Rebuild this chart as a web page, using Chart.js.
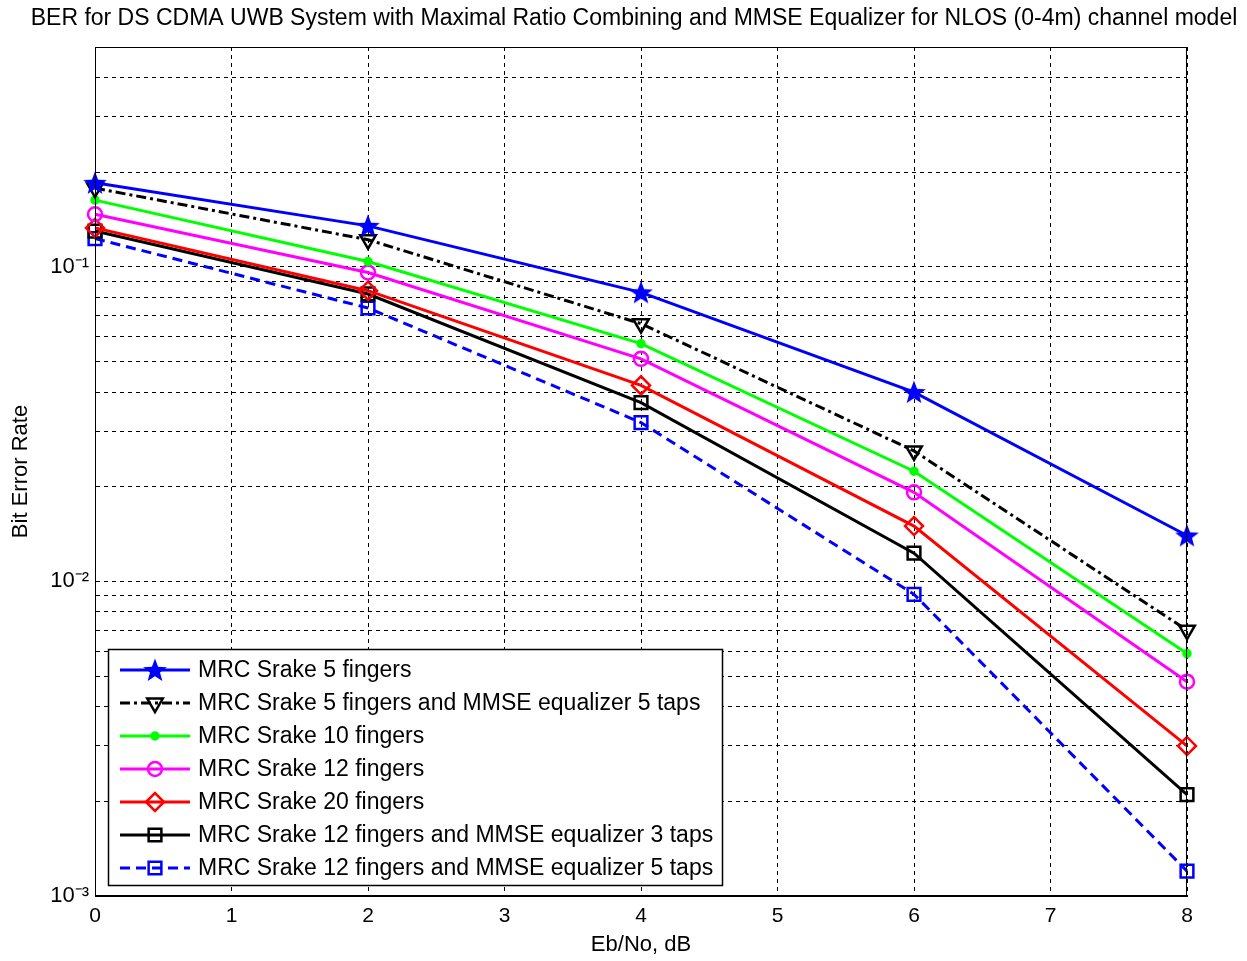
<!DOCTYPE html>
<html>
<head>
<meta charset="utf-8">
<script src="https://cdn.jsdelivr.net/npm/chart.js@4/dist/chart.umd.min.js"></script>
<style>
  html, body { margin: 0; padding: 0; background: #fff; }
  #wrap { width: 1247px; height: 961px; }
</style>
</head>
<body>
<div id="wrap"><canvas id="berChart"></canvas></div>
<script>
// Eb/No points (dB)
const ebno = [0, 2, 4, 6, 8];

// BER
const mrc5 = [0.185, 0.135, 0.083, 0.040, 0.0140];
const mrc5Mmse5 = [0.178, 0.122, 0.066, 0.026, 0.0070];
const mrc10 = [0.163, 0.104, 0.057, 0.0224, 0.0059];
const mrc12 = [0.147, 0.096, 0.051, 0.0192, 0.0048];
const mrc20 = [0.133, 0.084, 0.042, 0.0150, 0.0030];
const mrc12Mmse3 = [0.130, 0.082, 0.037, 0.0123, 0.0021];
const mrc12Mmse5 = [0.123, 0.074, 0.032, 0.0091, 0.0012];

const seriesLabels = [
    'MRC Srake 5 fingers',
    'MRC Srake 5 fingers and MMSE equalizer 5 taps',
    'MRC Srake 10 fingers',
    'MRC Srake 12 fingers',
    'MRC Srake 20 fingers',
    'MRC Srake 12 fingers and MMSE equalizer 3 taps',
    'MRC Srake 12 fingers and MMSE equalizer 5 taps'
];

// y grid (log) and labelled ticks
const yGrid = [0.001, 0.002, 0.003, 0.004, 0.005, 0.006, 0.007, 0.008, 0.009,
               0.01, 0.02, 0.03, 0.04, 0.05, 0.06, 0.07, 0.08, 0.09,
               0.1, 0.2, 0.3, 0.4, 0.5];
const yLabels = { 0.001: '10⁻³', 0.01: '10⁻²', 0.1: '10⁻¹' };
const xTicks = [0, 1, 2, 3, 4, 5, 6, 7, 8];

const FONT = 'Liberation Sans, Arial, sans-serif';

// filled pentagram marker (matlab 'p')
function makeStar(color, size) {
    const c = document.createElement('canvas');
    c.width = size; c.height = size;
    const g = c.getContext('2d');
    const cx = size / 2, cy = size / 2 + 1, ro = size / 2 - 0.5, ri = ro * 0.42;
    g.beginPath();
    for (let i = 0; i < 10; i++) {
        const r = i % 2 === 0 ? ro : ri;
        const a = -Math.PI / 2 + i * Math.PI / 5;
        const px = cx + r * Math.cos(a), py = cy + r * Math.sin(a);
        if (i === 0) g.moveTo(px, py); else g.lineTo(px, py);
    }
    g.closePath();
    g.fillStyle = color;
    g.fill();
    return c;
}

function pts(arr) {
    return ebno.map((x, i) => ({ x: x, y: arr[i] }));
}

const starImg = makeStar('#0000ff', 26);

const datasets = [
    { label: seriesLabels[0], data: pts(mrc5), borderColor: '#0000ff', backgroundColor: '#0000ff',
      pointStyle: starImg, pointRadius: 12, borderDash: [] },
    { label: seriesLabels[1], data: pts(mrc5Mmse5), borderColor: '#000000', backgroundColor: 'rgba(0,0,0,0)',
      pointStyle: 'triangle', pointRotation: 180, pointRadius: 9, borderDash: [10, 4, 3, 4] },
    { label: seriesLabels[2], data: pts(mrc10), borderColor: '#00ff00', backgroundColor: '#00ff00',
      pointStyle: 'circle', pointRadius: 3.5, borderDash: [] },
    { label: seriesLabels[3], data: pts(mrc12), borderColor: '#ff00ff', backgroundColor: 'rgba(0,0,0,0)',
      pointStyle: 'circle', pointRadius: 7, borderDash: [] },
    { label: seriesLabels[4], data: pts(mrc20), borderColor: '#ff0000', backgroundColor: 'rgba(0,0,0,0)',
      pointStyle: 'rectRot', pointRadius: 9, borderDash: [] },
    { label: seriesLabels[5], data: pts(mrc12Mmse3), borderColor: '#000000', backgroundColor: 'rgba(0,0,0,0)',
      pointStyle: 'rect', pointRadius: 9, borderDash: [] },
    { label: seriesLabels[6], data: pts(mrc12Mmse5), borderColor: '#0000ff', backgroundColor: 'rgba(0,0,0,0)',
      pointStyle: 'rect', pointRadius: 9, borderDash: [10, 6] }
];
datasets.forEach(d => {
    d.borderWidth = 3;
    d.pointBorderWidth = 2.5;
    d.pointBorderColor = d.borderColor;
    d.pointBackgroundColor = d.backgroundColor;
    d.fill = false;
    d.tension = 0;
    d.clip = false;
});

// title, frame and legend drawn onto the canvas
const matlabLook = {
    id: 'matlabLook',
    afterDraw(chart) {
        const ctx = chart.ctx;
        const a = chart.chartArea;
        ctx.save();
        // axes box
        ctx.strokeStyle = '#000';
        ctx.lineWidth = 1;
        ctx.setLineDash([]);
        ctx.strokeRect(a.left + 0.5, a.top + 0.5, a.right - a.left - 1, a.bottom - a.top - 1);

        // title
        ctx.fillStyle = '#000';
        ctx.font = '23px ' + FONT;
        ctx.textAlign = 'center';
        ctx.textBaseline = 'middle';
        ctx.fillText('BER for DS CDMA UWB System with Maximal Ratio Combining and MMSE Equalizer for NLOS (0-4m) channel model',
            634, 19);

        // legend
        const lx = 108, ly = 649, lw = 614, lh = 236;
        ctx.fillStyle = '#fff';
        ctx.fillRect(lx, ly, lw, lh);
        ctx.strokeStyle = '#000';
        ctx.lineWidth = 1.5;
        ctx.strokeRect(lx + 0.5, ly + 0.5, lw, lh);
        ctx.font = '23px ' + FONT;
        ctx.textAlign = 'left';
        chart.data.datasets.forEach((d, i) => {
            const y = 670 + i * 33;
            ctx.strokeStyle = d.borderColor;
            ctx.lineWidth = d.borderWidth;
            ctx.setLineDash(d.borderDash);
            ctx.beginPath();
            ctx.moveTo(120, y);
            ctx.lineTo(190, y);
            ctx.stroke();
            ctx.setLineDash([]);
            ctx.lineWidth = d.pointBorderWidth;
            ctx.fillStyle = d.pointBackgroundColor;
            Chart.helpers.drawPoint(ctx, {
                pointStyle: d.pointStyle, radius: d.pointRadius,
                rotation: d.pointRotation || 0, borderWidth: d.pointBorderWidth
            }, 155, y);
            ctx.fillStyle = '#000';
            ctx.fillText(d.label, 198, y + 1);
        });
        ctx.restore();
    }
};

const ctx = document.getElementById('berChart').getContext('2d');
const berChart = new Chart(ctx, {
    type: 'line',
    data: { datasets: datasets },
    options: {
        responsive: true,
        maintainAspectRatio: false,
        animation: false,
        layout: { padding: { top: 47, right: 60, left: 0, bottom: 0 } },
        plugins: {
            legend: { display: false },
            tooltip: { enabled: false }
        },
        scales: {
            x: {
                type: 'linear',
                min: 0,
                max: 8,
                afterBuildTicks: s => { s.ticks = xTicks.map(v => ({ value: v })); },
                afterFit: s => { s.height = 65; },
                ticks: { color: '#000', font: { family: FONT, size: 21 }, padding: 8, maxRotation: 0 },
                grid: { color: '#000', lineWidth: 1, drawTicks: false },
                border: { display: true, color: '#000', width: 1, dash: [4, 4] },
                title: { display: true, text: 'Eb/No, dB', color: '#000',
                         font: { family: FONT, size: 22 }, padding: { top: 0, bottom: 3 } }
            },
            y: {
                type: 'logarithmic',
                min: 0.001,
                max: 0.5,
                afterBuildTicks: s => { s.ticks = yGrid.map(v => ({ value: v })); },
                afterFit: s => { s.width = 95; },
                ticks: {
                    autoSkip: false,
                    color: '#000',
                    font: { family: FONT, size: 22 },
                    padding: 6,
                    callback: v => yLabels[v] || ''
                },
                grid: { color: '#000', lineWidth: 1, drawTicks: false },
                border: { display: true, color: '#000', width: 1, dash: [4, 4] },
                title: { display: true, text: 'Bit Error Rate', color: '#000',
                         font: { family: FONT, size: 22 }, padding: { top: 8, bottom: 0 } }
            }
        }
    },
    plugins: [matlabLook]
});
</script>
</body>
</html>
